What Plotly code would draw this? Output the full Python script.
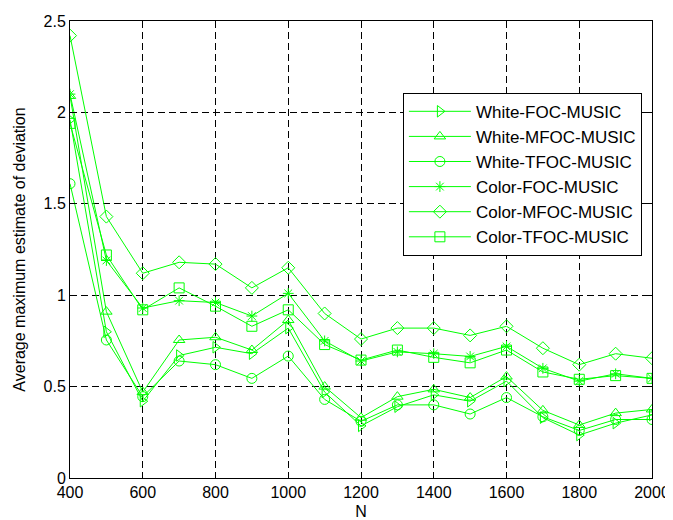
import plotly.graph_objects as go

N = [400, 500, 600, 700, 800, 900, 1000, 1100, 1200, 1300, 1400, 1500, 1600, 1700, 1800, 1900, 2000]

white_foc = [1.96, 0.80, 0.42, 0.67, 0.715, 0.68, 0.82, 0.47, 0.285, 0.39, 0.455, 0.42, 0.53, 0.33, 0.235, 0.30, 0.345]
white_mfoc = [2.09, 0.91, 0.47, 0.755, 0.77, 0.70, 0.864, 0.50, 0.33, 0.445, 0.485, 0.44, 0.555, 0.37, 0.29, 0.355, 0.375]
white_tfoc = [1.61, 0.755, 0.445, 0.64, 0.62, 0.545, 0.667, 0.43, 0.31, 0.40, 0.40, 0.35, 0.44, 0.335, 0.26, 0.32, 0.32]
color_foc = [2.10, 1.19, 0.93, 0.97, 0.96, 0.886, 1.01, 0.75, 0.64, 0.69, 0.68, 0.665, 0.72, 0.60, 0.53, 0.57, 0.545]
color_mfoc = [2.42, 1.43, 1.12, 1.18, 1.17, 1.04, 1.15, 0.90, 0.76, 0.82, 0.82, 0.78, 0.83, 0.71, 0.62, 0.68, 0.655]
color_tfoc = [1.94, 1.22, 0.92, 1.04, 0.94, 0.83, 0.92, 0.73, 0.645, 0.70, 0.66, 0.63, 0.70, 0.58, 0.54, 0.56, 0.545]

names = ["White-FOC-MUSIC", "White-MFOC-MUSIC", "White-TFOC-MUSIC",
         "Color-FOC-MUSIC", "Color-MFOC-MUSIC", "Color-TFOC-MUSIC"]
series = [white_foc, white_mfoc, white_tfoc, color_foc, color_mfoc, color_tfoc]
symbols = ["triangle-right-open", "triangle-up-open", "circle-open",
           "asterisk-open", "diamond-open", "square-open"]
sizes = [10, 10, 10, 9, 10, 10]

GREEN = "#00ff00"
FONT = "Liberation Sans, Arial, sans-serif"

fig = go.Figure()
for i, (nm, ys, sym, sz) in enumerate(zip(names, series, symbols, sizes)):
    fig.add_trace(go.Scatter(
        x=N, y=ys, name=nm, mode="lines+markers",
        line=dict(color=GREEN, width=1),
        marker=dict(symbol=sym, size=sz, color=GREEN, line=dict(color=GREEN, width=1)),
    ))

# page body has an 8px default margin, so the figure is sized to fit the window
fig.update_layout(
    width=665, height=512,
    margin=dict(l=62, r=21, t=13, b=42),
    paper_bgcolor="white", plot_bgcolor="white",
    font=dict(family=FONT, size=16, color="black"),
    showlegend=True,
    legend=dict(
        x=0.572, y=0.843, xanchor="left", yanchor="top",
        bgcolor="white", bordercolor="black", borderwidth=1,
        font=dict(family=FONT, size=17, color="black"),
        itemwidth=62,
    ),
)

axis_common = dict(
    showline=True, linecolor="black", linewidth=1, mirror="ticks",
    ticks="inside", ticklen=5, tickcolor="black",
    showgrid=True, gridcolor="black", gridwidth=1, griddash="7px,4px",
    zeroline=False, automargin=False,
    tickfont=dict(family=FONT, size=16, color="black"),
)

fig.update_xaxes(range=[400, 2000], tickmode="array",
                 tickvals=[400, 600, 800, 1000, 1200, 1400, 1600, 1800, 2000],
                 title=dict(text="N", standoff=6, font=dict(family=FONT, size=16)),
                 **axis_common)
fig.update_yaxes(range=[0, 2.5], tickmode="array",
                 tickvals=[0, 0.5, 1, 1.5, 2, 2.5],
                 ticktext=["0", "0.5", "1", "1.5", "2", "2.5"],
                 ticklabelstandoff=0,
                 title=dict(text="Average maximum estimate of deviation", standoff=13,
                            font=dict(family=FONT, size=16)),
                 **axis_common)

fig.write_html("out.html")
